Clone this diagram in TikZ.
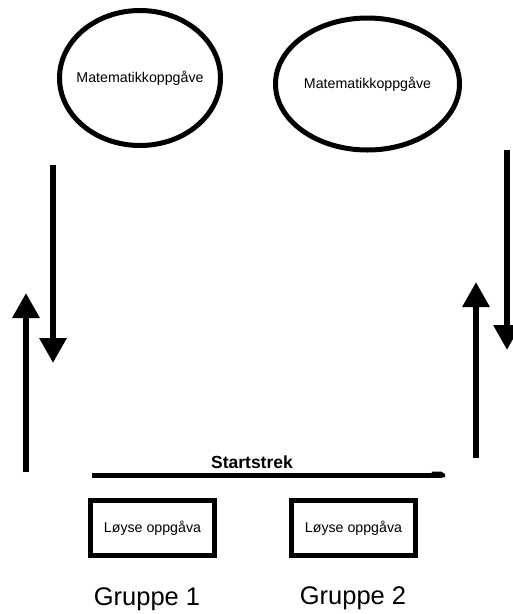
\documentclass[tikz,border=0pt]{standalone}
\usepackage{fontspec}
\setmainfont{Liberation Sans}
\usetikzlibrary{shapes.geometric,arrows.meta}
\tikzset{
  task/.style={draw, ellipse, line width=5pt, inner sep=0pt},
  solvebox/.style={draw, rectangle, line width=5pt, minimum width=124pt, minimum height=55pt, inner sep=0pt, font=\fontsize{14.2}{16}\selectfont},
  bigarrow/.style={line width=6pt, -{Triangle[width=26pt,length=25pt]}},
  grouplabel/.style={font=\fontsize{25.5}{28}\selectfont},
  tasklabel/.style={font=\fontsize{14.2}{16}\selectfont}
}
\begin{document}
\begin{tikzpicture}[x=1pt,y=-1pt]
\useasboundingbox[fill=white] (0,0) rectangle (513,614);
% ellipses
\node[task, minimum width=161pt, minimum height=135pt] (e1) at (140,78) {};
\node[tasklabel] (t1) at (e1.center) {Matematikkoppgåve};
\node[task, minimum width=184pt, minimum height=132pt] (e2) at (367.5,84) {};
\node[tasklabel] (t2) at (e2.center) {Matematikkoppgåve};
% arrows
\coordinate (ld1) at (53,165); \coordinate (ld2) at (53,363);
\coordinate (lu1) at (26,472); \coordinate (lu2) at (26,293);
\coordinate (rd1) at (507,150); \coordinate (rd2) at (507,350);
\coordinate (ru1) at (476,458); \coordinate (ru2) at (476,282);
\draw[bigarrow] (ld1) -- (ld2);
\draw[bigarrow] (lu1) -- (lu2);
\draw[bigarrow] (rd1) -- (rd2);
\draw[bigarrow] (ru1) -- (ru2);
% start line
\coordinate (s1) at (92,475.5); \coordinate (s2) at (440,475.5);
\draw[line width=5pt] (s1) -- (s2);
\fill (431,476) -- (432,471.5) -- (441,471.5) -- (445,474) -- (445,477) -- (440,478) -- cycle;
\node[font=\bfseries\fontsize{17.5}{20}\selectfont] (st) at (252,462) {Startstrek};
% boxes
\node[solvebox] (b1) at (152.5,528) {Løyse oppgåva};
\node[solvebox] (b2) at (353.5,528) {Løyse oppgåva};
\node[grouplabel] (g1) at (147,599) {Gruppe 1};
\node[grouplabel] (g2) at (353,598) {Gruppe 2};
\end{tikzpicture}
\end{document}
